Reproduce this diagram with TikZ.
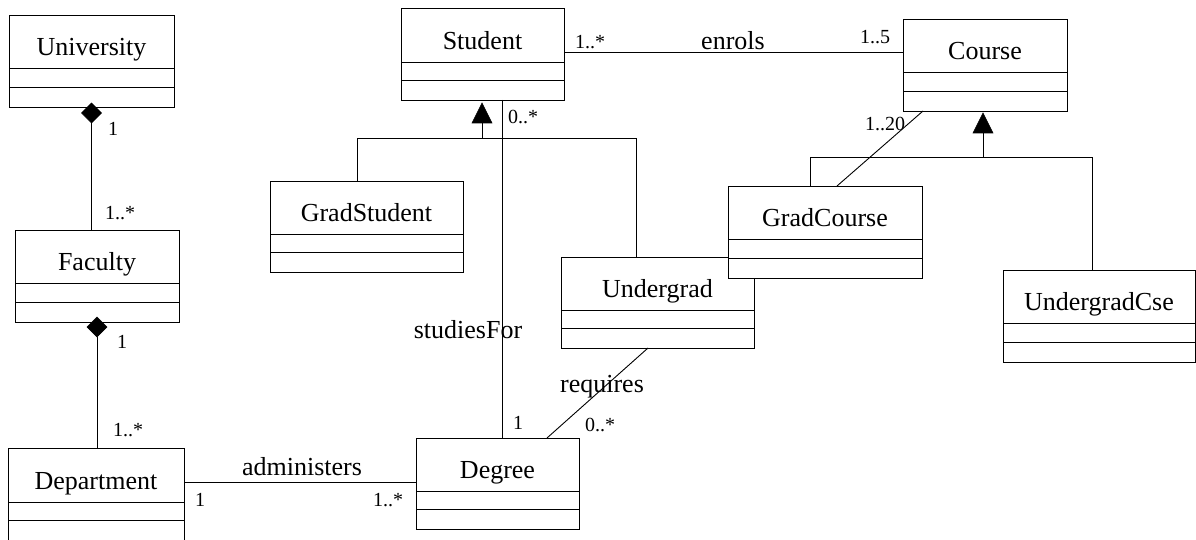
\documentclass[tikz,border=0pt]{standalone}
\usepackage{fontspec}
\setmainfont{Liberation Serif}
\usetikzlibrary{calc}
\tikzset{
  clsbox/.style={draw, fill=white, line width=0.9pt, inner sep=0pt, outer sep=0pt},
  clsname/.style={anchor=base, inner sep=0pt, font=\fontsize{26}{30}\selectfont},
  assoc/.style={inner sep=0pt, font=\fontsize{26}{30}\selectfont},
  mult/.style={inner sep=0pt, font=\fontsize{20}{24}\selectfont},
  conn/.style={line width=0.9pt},
  headfill/.style={fill=black, draw=black, line width=0.6pt}
}
% name, x1, y1, x2, y2, line1, line2, text
\newcommand\umlcls[8]{%
  \node[clsbox, anchor=north west, minimum width={(#4-#2)*1pt}, minimum height={(#5-#3)*1pt}] (#1) at (#2,#3) {};
  \draw[conn] (#2,#6) -- (#4,#6);
  \draw[conn] (#2,#7) -- (#4,#7);
  \node[clsname] (#1-name) at ({(#2+#4)/2},{#6-12.5}) {#8};
}
\begin{document}
\begin{tikzpicture}[x=1pt,y=-1pt]
\useasboundingbox (0,0) rectangle (1196,540);
\clip (0,0) rectangle (1196,540);

% classes
\umlcls{univ}{9}{15}{174}{107}{68}{87}{University}
\umlcls{fac}{15}{230}{179}{322}{283}{302}{Faculty}
\umlcls{dept}{8}{448}{184}{560}{502}{520}{Department}
\umlcls{stud}{401}{8}{564}{100}{62}{80}{Student}
\umlcls{course}{903}{19}{1067}{111}{72}{91}{Course}
\umlcls{gstud}{270}{181}{463}{272}{234}{252}{GradStudent}
\umlcls{ugrad}{561}{257}{754}{348}{310}{328}{Undergrad}
\umlcls{gcourse}{728}{186}{922}{278}{239}{258}{GradCourse}
\umlcls{ucse}{1003}{270}{1195}{362}{323}{342}{UndergradCse}
\umlcls{degree}{416}{438}{579}{529}{491}{509}{Degree}

% composition University - Faculty
\coordinate (d1) at ($(univ.south)+(0,-4)$);
\fill[headfill] (d1) -- ++(10,10) -- ++(-10,10) -- ++(-10,-10) -- cycle;
\draw[conn] ($(d1)+(0,20)$) -- (univ.south |- fac.north);
% composition Faculty - Department
\coordinate (d2) at ($(fac.south)+(0,-5)$);
\fill[headfill] (d2) -- ++(10,10) -- ++(-10,10) -- ++(-10,-10) -- cycle;
\draw[conn] ($(d2)+(0,20)$) -- (fac.south |- dept.north);

% Department - Degree
\draw[conn] ($(dept.north east)+(0,34)$) coordinate (dd1) -- (dd1 -| degree.west);
% Student - Course
\draw[conn] ($(stud.north east)+(0,44)$) coordinate (sc1) -- (sc1 -| course.west);
% Student - Degree
\draw[conn] ($(stud.south west)+(101,0)$) coordinate (sd1) -- (sd1 |- degree.north);
% Undergrad - Degree
\draw[conn] ($(ugrad.south west)+(87,0)$) -- ($(degree.north west)+(131,0)$);
% Course - GradCourse
\draw[conn] ($(course.south west)+(20,0)$) -- ($(gcourse.north west)+(109,0)$);

% generalisation to Student
\coordinate (stip) at ($(stud.south west)+(81,3)$);
\fill[headfill] (stip) -- ++(10,20) -- ++(-20,0) -- cycle;
\coordinate (sjoin) at ($(stip)+(0,35)$);
\draw[conn] ($(stip)+(0,20)$) -- (sjoin);
\draw[conn] ($(gstud.north west)+(87,0)$) |- ($(ugrad.north west)+(75,-119)$) -- ($(ugrad.north west)+(75,0)$);

% generalisation to Course
\coordinate (ctip) at ($(course.south west)+(80,2)$);
\fill[headfill] (ctip) -- ++(10,20) -- ++(-20,0) -- cycle;
\coordinate (cjoin) at ($(ctip)+(0,44)$);
\draw[conn] ($(ctip)+(0,20)$) -- (cjoin);
\draw[conn] ($(gcourse.north west)+(82,0)$) |- ($(ucse.north west)+(89,-113)$) -- ($(ucse.north west)+(89,0)$);

% labels
\node[mult] (m1) at (113,129) {1};
\node[mult] (m2) at (120,213) {1..*};
\node[mult] (m3) at (122,342) {1};
\node[mult] (m4) at (128,430) {1..*};
\node[assoc] (a1) at (302,467) {administers};
\node[mult] (m5) at (200,500) {1};
\node[mult] (m6) at (388,500) {1..*};
\node[mult] (m7) at (518,423) {1};
\node[mult] (m8) at (600,425) {0..*};
\node[assoc] (a2) at (602,387) {requires};
\node[assoc] (a3) at (468,330) {studiesFor};
\node[mult] (m9) at (523,117) {0..*};
\node[mult] (m10) at (590,42) {1..*};
\node[assoc] (a4) at (733,41) {enrols};
\node[mult] (m11) at (875,37) {1..5};
\node[mult] (m12) at (885,124) {1..20};
\end{tikzpicture}
\end{document}
